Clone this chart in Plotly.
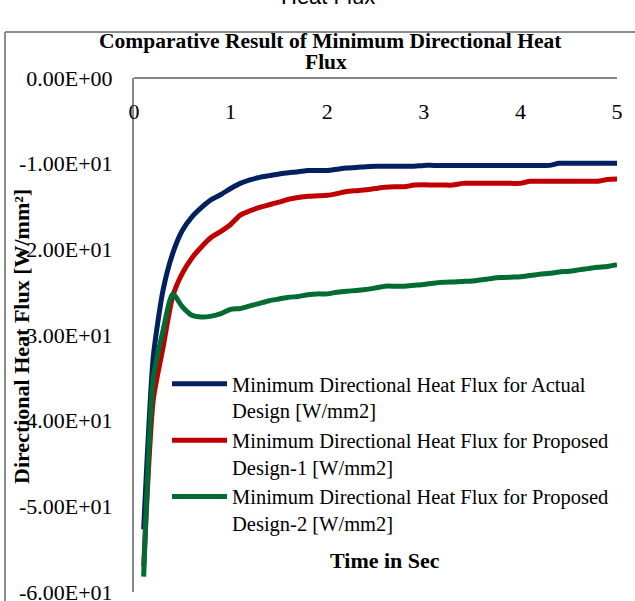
import plotly.graph_objects as go

# ---- data ----
time_s = [0.1, 0.2, 0.3, 0.4, 0.5, 0.6, 0.7, 0.8, 0.9, 1.0,
          1.1, 1.2, 1.3, 1.4, 1.5, 1.6, 1.7, 1.8, 1.9, 2.0,
          2.1, 2.2, 2.3, 2.4, 2.5, 2.6, 2.7, 2.8, 2.9, 3.0,
          3.1, 3.2, 3.3, 3.4, 3.5, 3.6, 3.7, 3.8, 3.9, 4.0,
          4.1, 4.2, 4.3, 4.4, 4.5, 4.6, 4.7, 4.8, 4.9, 5.0]

actual_design = [-52.7, -32.5, -24.8, -20.5, -17.8, -16.2, -15.1, -14.2, -13.6, -12.9,
                 -12.3, -11.9, -11.6, -11.4, -11.2, -11.05, -10.95, -10.8, -10.8, -10.8,
                 -10.65, -10.5, -10.45, -10.35, -10.3, -10.3, -10.3, -10.3, -10.3, -10.2,
                 -10.2, -10.2, -10.2, -10.2, -10.2, -10.2, -10.2, -10.2, -10.2, -10.2,
                 -10.2, -10.2, -10.2, -9.96, -9.95, -9.95, -9.95, -9.95, -9.95, -9.95]

proposed_design_1 = [-57.0, -37.5, -31.5, -25.5, -22.8, -21.0, -19.7, -18.6, -17.9, -17.1,
                     -16.0, -15.5, -15.1, -14.8, -14.5, -14.15, -13.95, -13.8, -13.75, -13.7,
                     -13.5, -13.25, -13.15, -13.05, -12.9, -12.75, -12.7, -12.7, -12.5, -12.45,
                     -12.5, -12.5, -12.5, -12.3, -12.3, -12.3, -12.3, -12.3, -12.3, -12.3,
                     -12.05, -12.05, -12.05, -12.05, -12.05, -12.05, -12.05, -12.05, -11.85, -11.8]

proposed_design_2 = [-58.2, -35.0, -29.5, -25.2, -26.7, -27.7, -27.9, -27.8, -27.5, -27.0,
                     -26.9, -26.6, -26.3, -26.0, -25.8, -25.6, -25.5, -25.3, -25.2, -25.2,
                     -25.0, -24.9, -24.8, -24.7, -24.5, -24.3, -24.3, -24.3, -24.2, -24.1,
                     -23.95, -23.85, -23.8, -23.75, -23.7, -23.55, -23.4, -23.3, -23.25, -23.2,
                     -23.05, -22.9, -22.8, -22.65, -22.55, -22.4, -22.25, -22.1, -22.0, -21.8]

series_names = [
    "Minimum Directional Heat Flux for Actual<br>Design [W/mm2]",
    "Minimum Directional Heat Flux for Proposed<br>Design-1 [W/mm2]",
    "Minimum Directional Heat Flux for Proposed<br>Design-2 [W/mm2]",
]
series_colors = ["#002060", "#C00000", "#006B33"]

x_tick_vals = [0, 1, 2, 3, 4, 5]
x_tick_text = ["0", "1", "2", "3", "4", "5"]
y_tick_vals = [0, -10, -20, -30, -40, -50, -60]
y_tick_text = ["0.00E+00", "-1.00E+01", "-2.00E+01", "-3.00E+01",
               "-4.00E+01", "-5.00E+01", "-6.00E+01"]

SERIF = "Liberation Serif, Times New Roman, serif"

fig = go.Figure()
for name, vals, col in zip(series_names, [actual_design, proposed_design_1, proposed_design_2], series_colors):
    fig.add_trace(go.Scatter(
        x=time_s, y=vals, mode="lines", name=name,
        line=dict(color=col, width=5, shape="spline", smoothing=0.6),
    ))

W, H = 635, 601
L, R, T, B = 134, 18, 78, 9
pw, ph = W - L - R, H - T - B

def px_x(p):
    return (p - L) / pw

def px_y(p):
    return (H - B - p) / ph

fig.update_layout(
    width=W, height=H,
    margin=dict(l=L, r=R, t=T, b=B, autoexpand=False),
    paper_bgcolor="white", plot_bgcolor="white",
    font=dict(family=SERIF, size=21, color="#000000"),
    showlegend=True,
    legend=dict(
        x=px_x(167), y=px_y(364), xanchor="left", yanchor="top",
        font=dict(family=SERIF, size=20.5, color="#000000"),
        bgcolor="rgba(0,0,0,0)", itemwidth=55, valign="top",
        traceorder="normal",
    ),
    xaxis=dict(
        range=[0, 5], anchor="free", position=1, side="bottom",
        tickvals=x_tick_vals, ticktext=x_tick_text,
        showline=True, linecolor="#888888", linewidth=2,
        showgrid=False, zeroline=False, ticks="", automargin=False,
        ticklabelstandoff=14, ticklabeloverflow="allow",
        tickfont=dict(family=SERIF, size=22, color="#000000"),
    ),
    yaxis=dict(
        range=[-60, 0], tickvals=y_tick_vals, ticktext=y_tick_text,
        showline=True, linecolor="#888888", linewidth=2,
        showgrid=False, zeroline=False, ticks="", automargin=False,
        ticklabelstandoff=15, ticklabeloverflow="allow",
        tickfont=dict(family=SERIF, size=22, color="#000000"),
    ),
)

annotations = [
    dict(text="<b>Comparative Result of Minimum Directional Heat</b>", x=px_x(330), y=px_y(41),
         xref="paper", yref="paper", showarrow=False, xanchor="center", yanchor="middle",
         font=dict(family=SERIF, size=21.5, color="#000000")),
    dict(text="<b>Flux</b>", x=px_x(326), y=px_y(62),
         xref="paper", yref="paper", showarrow=False, xanchor="center", yanchor="middle",
         font=dict(family=SERIF, size=21.5, color="#000000")),
    dict(text="<b>Time in Sec</b>", x=px_x(385), y=px_y(560),
         xref="paper", yref="paper", showarrow=False, xanchor="center", yanchor="middle",
         font=dict(family=SERIF, size=22, color="#000000")),
    dict(text="<b>Directional Heat Flux [W/mm²]</b>", x=px_x(21), y=px_y(337), textangle=-90,
         xref="paper", yref="paper", showarrow=False, xanchor="center", yanchor="middle",
         font=dict(family=SERIF, size=22, color="#000000")),
    dict(text="Heat Flux", x=px_x(328), y=px_y(11),
         xref="paper", yref="paper", showarrow=False, xanchor="center", yanchor="bottom",
         font=dict(family="Liberation Sans, Arial, sans-serif", size=22, color="#000000")),
]
fig.update_layout(annotations=annotations)

fig.update_layout(shapes=[
    dict(type="line", xref="paper", yref="paper", x0=px_x(5), x1=px_x(640), y0=px_y(32), y1=px_y(32),
         line=dict(color="#8c8c8c", width=2)),
    dict(type="line", xref="paper", yref="paper", x0=px_x(5), x1=px_x(5), y0=px_y(32), y1=px_y(610),
         line=dict(color="#8c8c8c", width=2)),
])

fig.write_html("out.html", config={"displayModeBar": False},
               post_script="document.body.style.margin='0';document.body.style.overflow='hidden';")
